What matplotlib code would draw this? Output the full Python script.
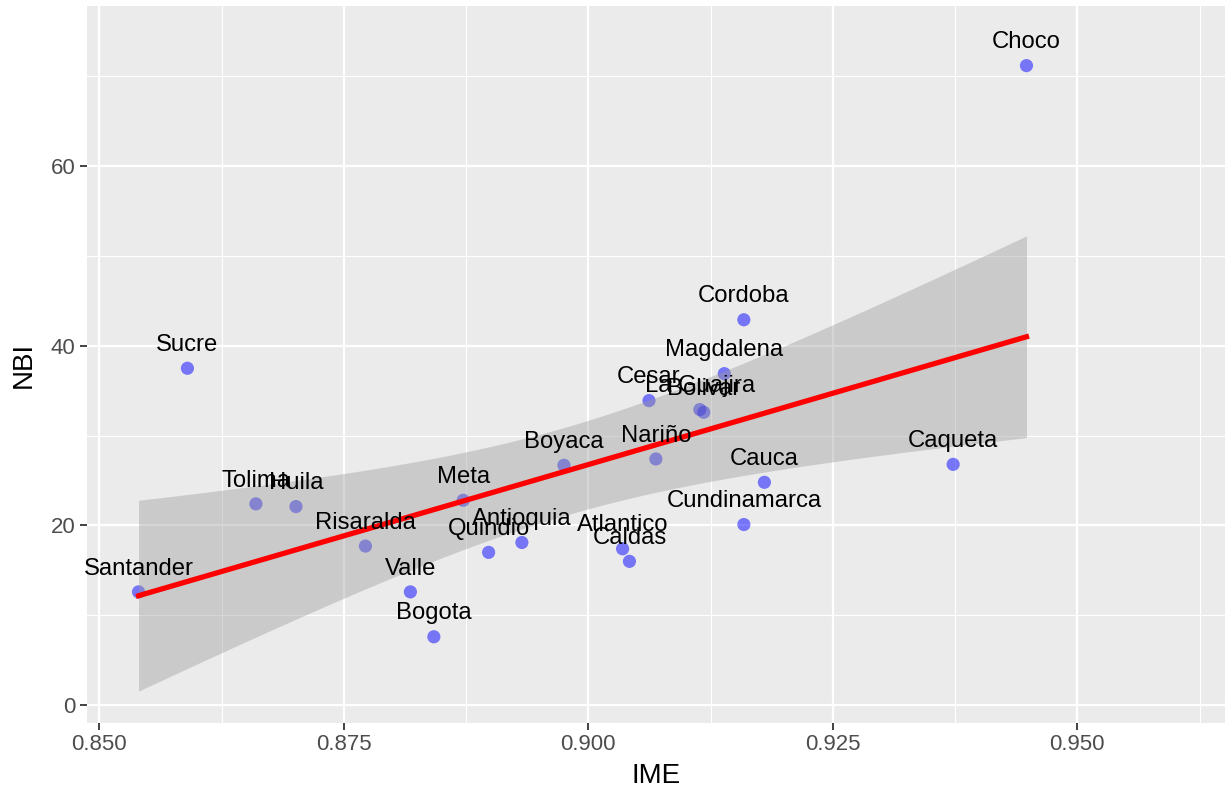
import numpy as np
import matplotlib
matplotlib.use("Agg")
import matplotlib.pyplot as plt
from matplotlib.ticker import MultipleLocator

plt.rcParams['font.family'] = ['Liberation Sans', 'DejaVu Sans']

# Department-level data: IME index vs NBI (%)
departments = ["Santander", "Sucre", "Tolima", "Huila", "Risaralda", "Valle",
               "Bogota", "Meta", "Boyaca", "Quindio", "Antioquia", "Atlantico",
               "Caldas", "Cesar", "La Guajira", "Bolivar", "Magdalena", "Nariño",
               "Cordoba", "Cauca", "Cundinamarca", "Caqueta", "Choco"]
ime = [0.8540, 0.8590, 0.8660, 0.8701, 0.8772, 0.8818,
       0.8842, 0.8872, 0.8975, 0.8898, 0.8932, 0.9035,
       0.9042, 0.9062, 0.9114, 0.9118, 0.9139, 0.9069,
       0.9159, 0.9180, 0.9159, 0.9373, 0.9448]
nbi = [12.6, 37.5, 22.4, 22.1, 17.7, 12.6,
       7.6, 22.8, 26.7, 17.0, 18.1, 17.4,
       16.0, 33.9, 32.9, 32.6, 36.9, 27.4,
       42.9, 24.8, 20.1, 26.8, 71.2]

x = np.array(ime)
y = np.array(nbi)
n = len(x)

# Ordinary least squares fit with a 95% confidence band
b1, b0 = np.polyfit(x, y, 1)
resid = y - (b0 + b1 * x)
s = np.sqrt(np.sum(resid ** 2) / (n - 2))
sxx = np.sum((x - x.mean()) ** 2)
t_crit = 2.0796  # t quantile, 0.975, df = 21
xs = np.linspace(x.min(), x.max(), 80)
fit = b0 + b1 * xs
se = s * np.sqrt(1.0 / n + (xs - x.mean()) ** 2 / sxx)
lower, upper = fit - t_crit * se, fit + t_crit * se

fig = plt.figure(figsize=(12.25, 7.90), dpi=100)
ax = fig.add_axes([86.7 / 1225, 1 - 723 / 790, 1 - 86.7 / 1225, (723 - 6) / 790])
ax.set_facecolor("#EBEBEB")

ax.set_xlim(0.8487, 0.9651)
ax.set_ylim(-2.0, 77.84)

ax.xaxis.set_major_locator(MultipleLocator(0.025))
ax.xaxis.set_minor_locator(MultipleLocator(0.0125))
ax.yaxis.set_major_locator(MultipleLocator(20))
ax.yaxis.set_minor_locator(MultipleLocator(10))
ax.grid(which="major", color="white", linewidth=1.6)
ax.grid(which="minor", color="white", linewidth=0.8)
ax.set_axisbelow(True)
for sp in ax.spines.values():
    sp.set_visible(False)

ax.tick_params(which="major", length=5, width=1.3, color="#333333",
               labelsize=16, labelcolor="#4D4D4D", pad=3)
ax.tick_params(which="minor", length=0)
ax.set_xticks([0.850, 0.875, 0.900, 0.925, 0.950])
ax.set_xticklabels(["0.850", "0.875", "0.900", "0.925", "0.950"])

ax.scatter(x, y, s=90, color="blue", alpha=0.5, edgecolors="none", zorder=2)
ax.fill_between(xs, lower, upper, color="#999999", alpha=0.4, linewidth=0, zorder=3)
ax.plot(xs, fit, color="red", linewidth=3.8, zorder=4)

# Labels sit just above their points
for name, xi, yi in zip(departments, ime, nbi):
    ax.text(xi, yi + 2.6, name, ha="center", va="center", fontsize=17.2,
            color="black", zorder=5)

ax.set_xlabel("IME", fontsize=20, labelpad=6)
ax.set_ylabel("NBI", fontsize=20, labelpad=10)

fig.savefig("out.png", dpi=100)
